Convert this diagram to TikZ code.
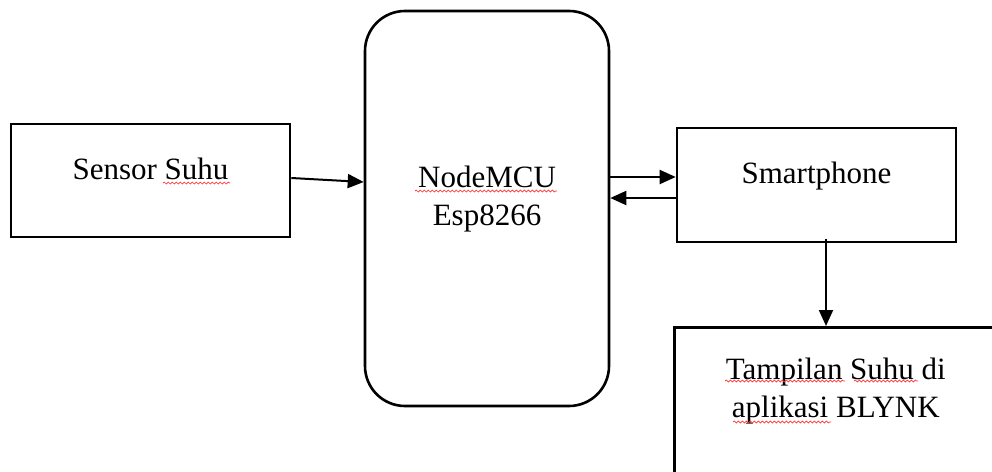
\documentclass[tikz,border=0pt]{standalone}
\usepackage{fontspec}
\setmainfont{Liberation Serif}
\usetikzlibrary{arrows.meta, positioning, decorations.pathmorphing}

\begin{document}
\begin{tikzpicture}[x=1pt, y=-1pt]

\tikzset{block/.style = {shape=rectangle, draw, line width=2.6pt, font=\fontsize{31}{38}\selectfont, align=center}}
\tikzset{edge/.style = {-{Triangle[length=16pt, width=14pt]}, line width=2pt}}
\tikzset{spell/.style = {red!80, line width=0.7pt, decorate, decoration={snake, amplitude=1pt, segment length=4pt}}}
\useasboundingbox (0,0) rectangle (992,471);
%blocks
\node[block, minimum width=279pt, minimum height=113pt, text depth=24pt] (sensor) at (150.5,180.5) {Sensor Suhu};
\node[block, rounded corners=40pt, minimum width=244pt, minimum height=395pt, text depth=26pt] (mcu) at (487,208.5) {NodeMCU\\Esp8266};
\node[block, minimum width=279pt, minimum height=114pt, text depth=25pt] (smart) at (816.5,185) {Smartphone};
\node[block, anchor=north west, minimum width=323pt, inner ysep=31pt, text depth=100pt] (tampil) at (673,326) {Tampilan Suhu di\\aplikasi BLYNK};
%arrows
\coordinate (s1) at ([yshift=8pt]smart.west);
\coordinate (s2) at ([yshift=-13pt]smart.west);
\coordinate (s3) at ([xshift=9.5pt,yshift=4pt]smart.south);
\draw[edge] ([yshift=2.5pt]sensor.east) -- ([yshift=-1.5pt]mcu.west |- sensor.east);
\draw[edge] (mcu.east |- s1) -- (s1);
\draw[edge] (s2) -- (mcu.east |- s2);
\draw[edge] (s3) -- (s3 |- tampil.north);
%spell marks
\draw[spell] (163,183) -- (230,183);
\draw[spell] (415,191) -- (557,191);
\draw[spell] (725,381) -- (845,381);
\draw[spell] (854,381) -- (918,381);
\draw[spell] (733,422) -- (831,422);

\end{tikzpicture}
\end{document}
